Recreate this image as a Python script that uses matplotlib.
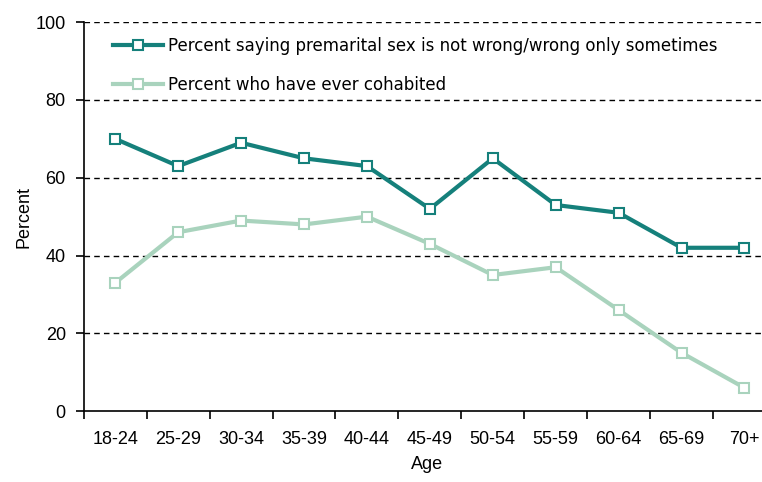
import matplotlib.pyplot as plt

ages = ["18-24", "25-29", "30-34", "35-39", "40-44", "45-49",
        "50-54", "55-59", "60-64", "65-69", "70+"]
premarital_ok = [70, 63, 69, 65, 63, 52, 65, 53, 51, 42, 42]
ever_cohabited = [33, 46, 49, 48, 50, 43, 35, 37, 26, 15, 6]

dark = "#15807b"
light = "#a9d3bd"

plt.rcParams["font.family"] = ["Liberation Sans", "DejaVu Sans"]

fig = plt.figure(figsize=(7.62, 4.82), dpi=100)
ax = fig.add_axes([0.110, 0.147, 0.900, 0.807])

x = list(range(len(ages)))
ax.plot(x, premarital_ok, color=dark, lw=3, marker="s", ms=7.5, mfc="white",
        mec=dark, mew=1.5, label="Percent saying premarital sex is not wrong/wrong only sometimes",
        zorder=4)
ax.plot(x, ever_cohabited, color=light, lw=3, marker="s", ms=7.5, mfc="white",
        mec=light, mew=1.5, label="Percent who have ever cohabited", zorder=3)

for v in [20, 40, 60, 80, 100]:
    ax.axhline(v, color="black", lw=1, ls=(0, (4, 3)), zorder=1)

ax.set_ylim(0, 100)
ax.set_xlim(-0.5, 10.4)
ax.set_yticks([0, 20, 40, 60, 80, 100])
ax.set_xticks([i - 0.5 for i in range(len(ages))])
ax.set_xticklabels([])
ax.set_xticks(x, minor=True)
ax.set_xticklabels(ages, minor=True)
ax.tick_params(axis="x", which="major", length=6, width=1.2, direction="out")
ax.tick_params(axis="x", which="minor", length=0, pad=14, labelsize=13)
ax.tick_params(axis="y", length=6, width=1.2, labelsize=13, pad=7)

for s in ["top", "right"]:
    ax.spines[s].set_visible(False)
ax.spines["left"].set_linewidth(1.2)
ax.spines["bottom"].set_linewidth(1.2)

ax.set_xlabel("Age", fontsize=13, labelpad=6)
ax.set_ylabel("Percent", fontsize=13, labelpad=2)

leg = ax.legend(loc="upper left", bbox_to_anchor=(0.02, 1.0), frameon=False,
                prop={"family": "DejaVu Sans", "size": 12},
                handlelength=3.0, handletextpad=0.3, labelspacing=1.25)

fig.savefig("out.png", dpi=100)
